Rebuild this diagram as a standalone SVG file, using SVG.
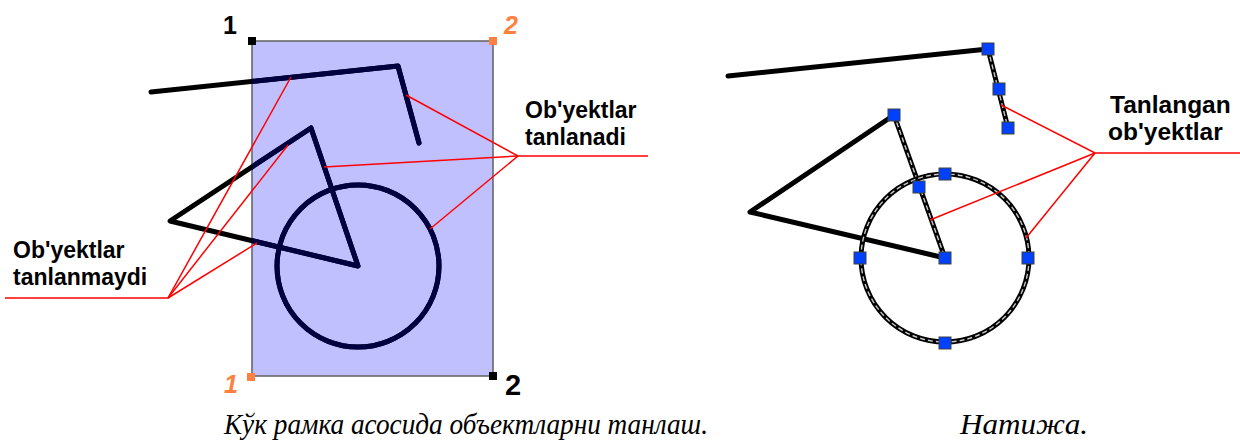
<svg xmlns="http://www.w3.org/2000/svg" width="1240" height="443" viewBox="0 0 1240 443">
<style>
.lbl{font-family:"Liberation Sans",Arial,sans-serif;font-weight:bold;font-size:23px;fill:#000}
.lblr{font-size:24.5px}
.cap{font-family:"Liberation Serif","Times New Roman",serif;font-style:italic;font-size:30px;fill:#000}
.obj{fill:none;stroke:#000;stroke-width:5;stroke-linecap:round;stroke-linejoin:round}
.navy{stroke:#000040}
.sel{fill:none;stroke:#000;stroke-width:5;stroke-linecap:round;stroke-linejoin:round}
.selin{fill:none;stroke:#c8c8c8;stroke-width:1.4;stroke-dasharray:5 3}
.lead{fill:none;stroke:#ff0000;stroke-width:1.5}
.grip{fill:#0040ff;stroke:#404040;stroke-width:1}
.cb{fill:#000}
.co{fill:#ff8040}
.nb{font-family:"Liberation Sans",Arial,sans-serif;font-weight:bold;fill:#000}
.no{font-family:"Liberation Sans",Arial,sans-serif;font-weight:bold;font-style:italic;fill:#ff8040}
</style>
<defs>
<clipPath id="inrect"><rect x="252" y="41" width="241" height="335"/></clipPath>
</defs>
<rect width="1240" height="443" fill="#fff"/>

<g id="window">
<rect x="252" y="41" width="241" height="335" fill="#c0c0ff" stroke="#606060" stroke-width="1.5"/>
<rect class="cb" x="248" y="37" width="8" height="8"/>
<rect class="co" x="489" y="37" width="8" height="8"/>
<rect class="co" x="247" y="373" width="8" height="8"/>
<rect class="cb" x="489" y="372" width="8" height="8"/>
<text class="nb" x="223" y="34" style="font-size:25px">1</text>
<text class="no" x="504" y="34" style="font-size:25px">2</text>
<text class="no" x="224" y="393" style="font-size:25px">1</text>
<text class="nb" x="505" y="395" style="font-size:29px">2</text>
</g>

<g id="left-objects">
<polyline class="obj" points="151,92 398,66 419,143"/>
<polygon class="obj" points="170,221 311,128 358,266"/>
<circle class="obj" cx="358" cy="266" r="81"/>
<g clip-path="url(#inrect)">
<polyline class="obj navy" points="151,92 398,66 419,143"/>
<polygon class="obj navy" points="170,221 311,128 358,266"/>
<circle class="obj navy" cx="358" cy="266" r="81"/>
</g>
</g>

<g id="right-objects">
<line class="obj" x1="728" y1="76" x2="988" y2="49"/>
<polyline class="obj" points="894,115 750,212 945,258"/>
<line class="sel" x1="988" y1="49" x2="1008" y2="128"/>
<line class="selin" x1="988" y1="49" x2="1008" y2="128"/>
<line class="sel" x1="894" y1="115" x2="945" y2="258"/>
<line class="selin" x1="894" y1="115" x2="945" y2="258"/>
<circle class="sel" cx="945" cy="258" r="84"/>
<circle class="selin" cx="945" cy="258" r="84"/>
<rect class="grip" x="982" y="43" width="12" height="12"/>
<rect class="grip" x="993" y="83" width="12" height="12"/>
<rect class="grip" x="1002" y="122" width="12" height="12"/>
<rect class="grip" x="888" y="109" width="12" height="12"/>
<rect class="grip" x="913" y="181" width="12" height="12"/>
<rect class="grip" x="939" y="168" width="12" height="12"/>
<rect class="grip" x="854" y="252" width="12" height="12"/>
<rect class="grip" x="939" y="252" width="12" height="12"/>
<rect class="grip" x="1022" y="252" width="12" height="12"/>
<rect class="grip" x="939" y="337" width="12" height="12"/>
</g>

<g id="connectors">
<polyline class="lead" points="5,298 168,298 291,77"/>
<line class="lead" x1="168" y1="298" x2="288" y2="145"/>
<line class="lead" x1="168" y1="298" x2="257" y2="243"/>
<polyline class="lead" points="648,156 518,156 406,95"/>
<line class="lead" x1="518" y1="156" x2="324" y2="167"/>
<line class="lead" x1="518" y1="156" x2="430" y2="229"/>
<polyline class="lead" points="1240,153 1095,153 1001,105"/>
<line class="lead" x1="1095" y1="153" x2="930" y2="220"/>
<line class="lead" x1="1095" y1="153" x2="1026" y2="238"/>
</g>

<g id="label-not-selected">
<text class="lbl" x="13" y="258">Ob'yektlar</text>
<text class="lbl" x="13" y="285">tanlanmaydi</text>
</g>
<g id="label-selected">
<text class="lbl" x="525" y="118">Ob'yektlar</text>
<text class="lbl" x="525" y="145">tanlanadi</text>
</g>
<g id="label-result">
<text class="lbl lblr" x="1110" y="113">Tanlangan</text>
<text class="lbl lblr" x="1108" y="140">ob'yektlar</text>
</g>

<g id="captions">
<text class="cap" x="224" y="434" textLength="484" lengthAdjust="spacingAndGlyphs">Кўк рамка асосида объектларни танлаш.</text>
<text class="cap" x="960" y="434" textLength="128" lengthAdjust="spacingAndGlyphs">Натижа.</text>
</g>
</svg>
